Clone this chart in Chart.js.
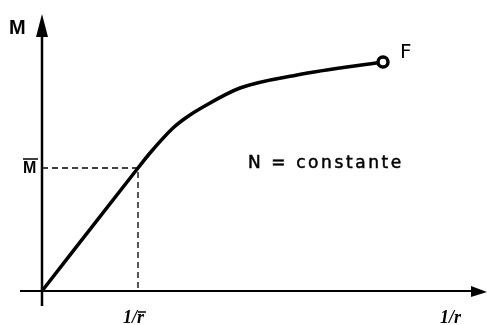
<!DOCTYPE html>
<html>
<head>
<meta charset="utf-8">
<script src="https://cdn.jsdelivr.net/npm/chart.js@4"></script>
<style>
  body { margin: 0; background: #fff; }
  canvas { display: block; }
</style>
</head>
<body>
<canvas id="mk" width="487" height="325"></canvas>
<script>
// moment - curvature curve, N constant
var curvature = [0, 9.6, 10.8, 13.1, 14.5, 16.1, 19.8, 25.5, 34.1];
var moment    = [0, 12.3, 13.8, 16.3, 17.4, 18.4, 20.3, 21.6, 22.9];
var yieldCurv = 9.6;    // 1/r bar
var yieldMom  = 12.3;   // M bar

var curve = curvature.map(function (c, i) { return { x: c, y: moment[i] }; });
var guide = [{ x: 0, y: yieldMom }, { x: yieldCurv, y: yieldMom }, { x: yieldCurv, y: 0 }];
var radii = curve.map(function (p, i) { return i === curve.length - 1 ? 5 : 0; });

function txt(ctx, s, x, y, font, align) {
  ctx.font = font;
  ctx.textAlign = align || 'left';
  ctx.textBaseline = 'middle';
  ctx.fillText(s, x, y);
  return ctx.measureText(s).width;
}

var axesPlugin = {
  id: 'axes',
  beforeDatasetsDraw: function (chart) {
    var ctx = chart.ctx, xs = chart.scales.x, ys = chart.scales.y;
    var x0 = xs.getPixelForValue(0), y0 = ys.getPixelForValue(0);
    ctx.save();
    ctx.strokeStyle = '#000';
    ctx.fillStyle = '#000';
    ctx.lineWidth = 2.5;
    // vertical axis
    ctx.beginPath();
    ctx.moveTo(x0, 306);
    ctx.lineTo(x0, 30);
    ctx.stroke();
    ctx.beginPath();
    ctx.moveTo(x0, 14);
    ctx.lineTo(x0 - 6, 37);
    ctx.lineTo(x0 + 6, 37);
    ctx.closePath();
    ctx.fill();
    // horizontal axis
    ctx.lineWidth = 2;
    ctx.beginPath();
    ctx.moveTo(20, y0);
    ctx.lineTo(476, y0);
    ctx.stroke();
    ctx.beginPath();
    ctx.moveTo(487, y0 + 1);
    ctx.lineTo(471, y0 - 5);
    ctx.lineTo(471, y0 + 6);
    ctx.closePath();
    ctx.fill();
    ctx.restore();
  },
  afterDatasetsDraw: function (chart) {
    var ctx = chart.ctx, xs = chart.scales.x, ys = chart.scales.y;
    var xm = xs.getPixelForValue(yieldCurv), ym = ys.getPixelForValue(yieldMom);
    var last = curve[curve.length - 1];
    ctx.save();
    ctx.fillStyle = '#000';
    ctx.strokeStyle = '#000';
    txt(ctx, 'M', 9, 28, 'bold 20px "Liberation Sans"');
    txt(ctx, 'M', 23, ym + 1, 'bold 16px "Liberation Sans"');
    ctx.lineWidth = 1.5;
    ctx.beginPath();
    ctx.moveTo(23, ym - 9);
    ctx.lineTo(38, ym - 9);
    ctx.stroke();
    // 1/r with bar over the r
    var f = 'italic bold 18px "Liberation Serif"';
    var w1 = txt(ctx, '1/', xm - 15, 318, f);
    var w2 = txt(ctx, 'r', xm - 15 + w1, 318, f);
    ctx.beginPath();
    ctx.moveTo(xm - 14 + w1, 312);
    ctx.lineTo(xm - 13 + w1 + w2, 312);
    ctx.stroke();
    txt(ctx, '1/r', 440, 318, f);
    txt(ctx, 'F', xs.getPixelForValue(last.x) + 17, ys.getPixelForValue(last.y) - 9, '20px "DejaVu Sans"');
    ctx.letterSpacing = '2.6px';
    ctx.lineWidth = 0.5;
    txt(ctx, 'N = constante', 248, 164, '17px "DejaVu Sans"');
    ctx.strokeText('N = constante', 248, 164);
    ctx.restore();
  }
};

new Chart(document.getElementById('mk'), {
  type: 'line',
  data: {
    datasets: [{
      data: curve,
      borderColor: '#000',
      borderWidth: 3.5,
      cubicInterpolationMode: 'monotone',
      pointRadius: radii,
      pointBackgroundColor: '#fff',
      pointBorderColor: '#000',
      pointBorderWidth: 3.5
    }, {
      data: guide,
      borderColor: '#000',
      borderWidth: 1.3,
      borderDash: [6, 4],
      pointRadius: 0,
      tension: 0
    }]
  },
  options: {
    responsive: false,
    animation: false,
    layout: { padding: 0, autoPadding: false },
    plugins: { legend: { display: false }, tooltip: { enabled: false } },
    scales: {
      x: { type: 'linear', min: -4.2, max: 44.5, display: false },
      y: { type: 'linear', min: -3.4, max: 29.1, display: false }
    }
  },
  plugins: [axesPlugin]
});
</script>
</body>
</html>
